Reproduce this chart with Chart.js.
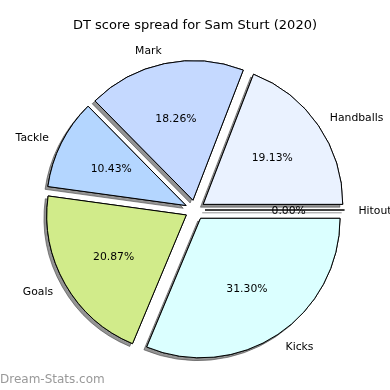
<!DOCTYPE html>
<html>
<head>
<meta charset="utf-8">
<script src="https://cdn.jsdelivr.net/npm/chart.js@4"></script>
<style>
  html, body { margin: 0; padding: 0; background: #fff; }
  #wrap { width: 390px; height: 390px; }
</style>
</head>
<body>
<div id="wrap"><canvas id="myChart" width="390" height="390"></canvas></div>
<script>
// DT points per stat (order: clockwise from east, i.e. matplotlib order reversed)
let labels = ['Hitout', 'Kicks', 'Goals', 'Tackle', 'Mark', 'Handballs'];
let points = [0, 36, 24, 12, 21, 22];
let colours = ['#d8ffd8', '#dbffff', '#d1eb8a', '#b4d6ff', '#c5d9ff', '#eaf2ff'];

let total = points.reduce((a, b) => a + b, 0);
let explode = 10;
let font = '"DejaVu Sans", Verdana, sans-serif';

// draws the slices pulled out from the centre, with a drop shadow, then the texts
let explodePlugin = {
	id: 'explode',
	beforeDatasetDraw(chart, args) {
		let ctx = chart.ctx;
		let arcs = args.meta.data;
		let pass = (shadow) => {
			arcs.forEach((arc, i) => {
				let mid = (arc.startAngle + arc.endAngle) / 2;
				let dx = Math.cos(mid) * explode;
				let dy = Math.sin(mid) * explode;
				ctx.save();
				if (shadow) {
					ctx.shadowColor = 'rgba(60,60,60,0.55)';
					ctx.shadowOffsetX = -2.8;
					ctx.shadowOffsetY = 2.8;
					ctx.shadowBlur = 0;
				}
				ctx.translate(dx, dy);
				if (points[i] === 0) {
					// zero-width wedge: only its edge is visible
					ctx.beginPath();
					ctx.moveTo(arc.x, arc.y);
					ctx.lineTo(arc.x + Math.cos(arc.startAngle) * arc.outerRadius,
						arc.y + Math.sin(arc.startAngle) * arc.outerRadius);
					ctx.strokeStyle = '#000';
					ctx.lineWidth = 1;
					ctx.stroke();
				} else {
					arc.draw(ctx);
				}
				ctx.restore();
			});
		};
		pass(true);
		pass(false);
		return false;
	},
	afterDraw(chart) {
		let ctx = chart.ctx;
		let arcs = chart.getDatasetMeta(0).data;
		ctx.save();
		ctx.fillStyle = '#000';
		ctx.textBaseline = 'middle';

		arcs.forEach((arc, i) => {
			let mid = (arc.startAngle + arc.endAngle) / 2;
			let cx = arc.x + Math.cos(mid) * explode;
			let cy = arc.y + Math.sin(mid) * explode;
			let r = arc.outerRadius;

			// category label outside
			let lx = cx + Math.cos(mid) * r * 1.1;
			let ly = cy + Math.sin(mid) * r * 1.1 + 1;
			ctx.font = '10.8px ' + font;
			ctx.textAlign = Math.cos(mid) > 0 ? 'left' : 'right';
			ctx.fillText(labels[i], lx, ly);

			// percentage inside
			let px = cx + Math.cos(mid) * r * 0.6;
			let py = cy + Math.sin(mid) * r * 0.6 + 1;
			ctx.textAlign = 'center';
			ctx.fillText((points[i] / total * 100).toFixed(2) + '%', px, py);
		});

		// title
		ctx.font = '13px ' + font;
		ctx.textAlign = 'center';
		ctx.fillText('DT score spread for Sam Sturt (2020)', 195, 26);

		// watermark
		ctx.font = '12px ' + font;
		ctx.fillStyle = '#999';
		ctx.textAlign = 'left';
		ctx.fillText('Dream-Stats.com', 0, 380);
		ctx.restore();
	}
};

let ctx = document.getElementById('myChart').getContext('2d');
new Chart(ctx, {
	type: 'pie',
	data: {
		labels: labels,
		datasets: [
			{
				data: points,
				backgroundColor: colours,
				borderColor: '#000',
				borderWidth: 1,
			},
		],
	},
	options: {
		responsive: false,
		animation: false,
		rotation: 90,
		radius: 139.5,
		layout: { padding: { top: 30, left: 0, right: 0, bottom: 0 } },
		plugins: {
			legend: { display: false },
			tooltip: { enabled: false },
		},
	},
	plugins: [explodePlugin],
});
</script>
</body>
</html>
